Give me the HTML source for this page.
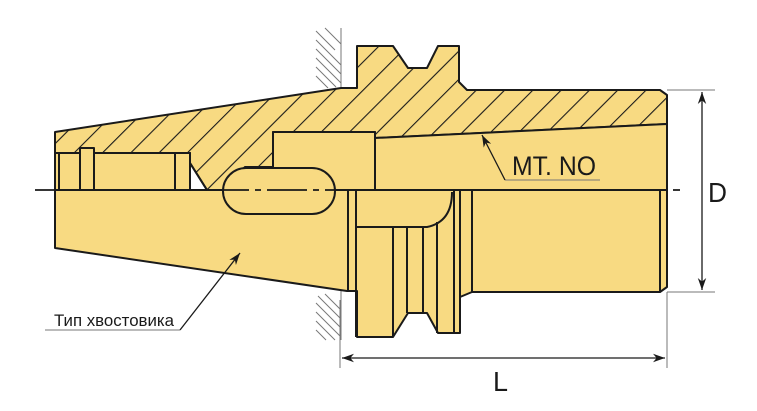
<!DOCTYPE html>
<html><head><meta charset="utf-8"><style>
html,body{margin:0;padding:0;background:#fff;}
svg{display:block;}
text{font-family:"Liberation Sans",sans-serif;fill:#1a1a1a;}
</style></head><body>
<svg width="757" height="411" viewBox="0 0 757 411" xmlns="http://www.w3.org/2000/svg">
<defs>
<pattern id="h" patternUnits="userSpaceOnUse" width="20" height="20" patternTransform="rotate(45)">
<rect width="20" height="20" fill="#f8da82"/>
<line x1="0" y1="0" x2="0" y2="20" stroke="#1a1a1a" stroke-width="2.2"/>
</pattern>
<marker id="a" viewBox="0 0 10 10" refX="10" refY="5" markerWidth="12" markerHeight="12" orient="auto-start-reverse" markerUnits="userSpaceOnUse">
<path d="M0,1.5 L10,5 L0,8.5 L3,5 Z" fill="#1a1a1a"/>
</marker>
</defs>
<g stroke="#777" stroke-width="1">
<line x1="341" y1="28" x2="341" y2="88"/>
<line x1="341" y1="291" x2="341" y2="340"/>
<line x1="316" y1="31" x2="335" y2="50"/><line x1="325" y1="28" x2="341" y2="44"/>
<line x1="316" y1="40" x2="341" y2="65"/><line x1="316" y1="49" x2="341" y2="74"/>
<line x1="316" y1="58" x2="341" y2="83"/><line x1="316" y1="67" x2="336" y2="87"/>
<line x1="316" y1="76" x2="328" y2="88"/>
<line x1="325" y1="294" x2="341" y2="310"/><line x1="318" y1="296" x2="341" y2="319"/>
<line x1="316" y1="303" x2="341" y2="328"/><line x1="316" y1="312" x2="341" y2="337"/>
<line x1="316" y1="321" x2="335" y2="340"/><line x1="316" y1="330" x2="326" y2="340"/>
</g>
<g stroke="#1a1a1a" stroke-width="2" stroke-linejoin="round">
<path d="M55,190 L55,248 L347,291 L357,291 L357,337 L393,337 L408,313 L427,313 L438,333 L460,333 L460,297 L472,292 L660,292 L667,287 L667,190 Z" fill="#f8da82"/>
<path d="M55,132 L341,88 L357,88 L357,46 L393,46 L408,68 L427,68 L438,46 L459,46 L459,82 L467,90 L660,90 L667,95 L667,124 L375,138 L375,132 L273,132 L273,167 L245,167 L223,190 L207,190 L190,163 L190,153 L55,153 Z" fill="url(#h)"/>
<rect x="55" y="153" width="135" height="37" fill="#f8da82"/>
<rect x="80" y="148" width="14" height="42" fill="#f8da82"/>
<rect x="175" y="153" width="15" height="37" fill="#f8da82"/>
<line x1="59" y1="153" x2="59" y2="190"/>
<line x1="190" y1="163" x2="207" y2="190"/>
<rect x="273" y="132" width="102" height="58" fill="#f8da82"/>
<path d="M375,138 L667,124 L667,190 L375,190 Z" fill="#f8da82"/>
<rect x="223" y="168" width="112" height="46" rx="23" fill="#f8da82"/>
<line x1="348" y1="190" x2="348" y2="291"/>
<line x1="356" y1="190" x2="356" y2="337"/>
<path d="M357,227 L427,227 Q452,222 452,192" fill="none"/>
<line x1="393" y1="227" x2="393" y2="337"/>
<line x1="407" y1="227" x2="407" y2="313"/>
<line x1="423" y1="227" x2="423" y2="313"/>
<line x1="437" y1="222" x2="437" y2="333"/>
<line x1="454" y1="190" x2="454" y2="333"/>
<line x1="460" y1="190" x2="460" y2="297"/>
<line x1="472" y1="190" x2="472" y2="292"/>
<line x1="660" y1="190" x2="660" y2="292"/>
</g>
<line x1="35" y1="190" x2="680" y2="190" stroke="#1a1a1a" stroke-width="1.8" stroke-dasharray="40,6,6,6"/>
<g stroke="#777" stroke-width="1" fill="none">
<line x1="667" y1="90" x2="715" y2="90"/>
<line x1="667" y1="292" x2="715" y2="292"/>
<line x1="340" y1="300" x2="340" y2="368"/>
<line x1="667" y1="292" x2="667" y2="368"/>
<line x1="180" y1="330" x2="45" y2="330"/>
<line x1="600" y1="180" x2="505" y2="180"/>
</g>
<g stroke="#1a1a1a" stroke-width="1.3" fill="none">
<line x1="702" y1="92" x2="702" y2="290" marker-start="url(#a)" marker-end="url(#a)"/>
<line x1="342" y1="358" x2="665" y2="358" marker-start="url(#a)" marker-end="url(#a)"/>
<line x1="180" y1="330" x2="240" y2="253" marker-end="url(#a)"/>
<line x1="505" y1="180" x2="482" y2="135" marker-end="url(#a)"/>
</g>
<text x="512" y="175" font-size="27" textLength="84" lengthAdjust="spacingAndGlyphs">MT. NO</text>
<text x="708" y="202" font-size="28" textLength="19" lengthAdjust="spacingAndGlyphs">D</text>
<text x="493" y="391" font-size="28" textLength="15" lengthAdjust="spacingAndGlyphs">L</text>
<text x="54" y="326" font-size="17" textLength="120" lengthAdjust="spacingAndGlyphs">Тип хвостовика</text>
</svg>
</body></html>
